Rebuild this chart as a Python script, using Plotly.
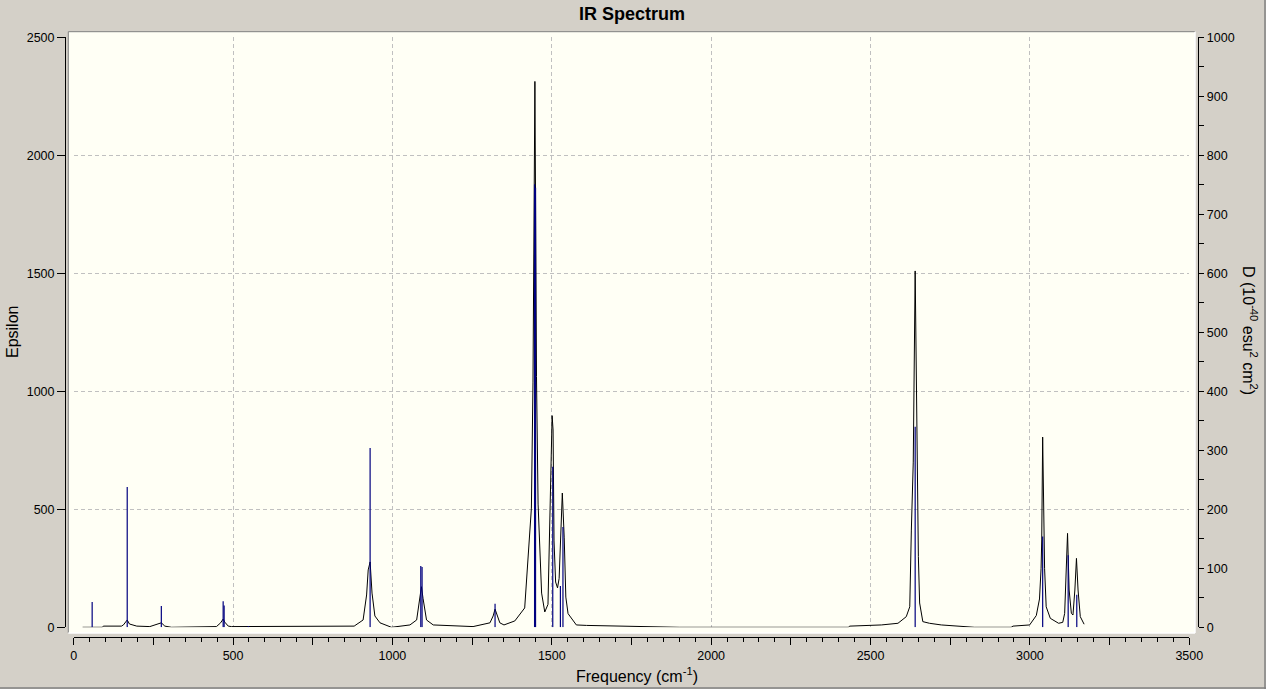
import plotly.graph_objects as go

# ---------------- data ----------------
# Stick spectrum: frequency (cm-1) and dipole strength D (1e-40 esu^2 cm^2, right axis)
stick_freq = [58, 168, 275, 469, 472, 548, 930, 1089, 1093, 1322, 1446, 1449, 1503, 1527, 1535, 2640, 3040, 3120, 3147]
stick_d = [43, 238, 36, 44, 37, 2, 304, 104, 102, 40, 751, 745, 272, 70, 170, 340, 154, 122, 55]

# Broadened spectrum: frequency (cm-1) and epsilon (left axis)
curve_freq = [28, 90, 93, 150, 156, 164, 168, 175, 198, 239, 265, 275, 286, 307,
              448, 461, 469, 474, 485, 495, 880, 908, 919, 924, 930, 936, 945, 961, 997,
              1055, 1076, 1086, 1091, 1096, 1107, 1128, 1253, 1306, 1316, 1322, 1329, 1337,
              1350, 1384, 1415, 1436, 1441, 1447, 1452, 1457, 1468, 1478, 1488, 1496, 1501,
              1504, 1507, 1512, 1518, 1523, 1528, 1533, 1539, 1544, 1551, 1577, 1609, 1700,
              1800, 1900, 2430, 2435, 2534, 2586, 2612, 2623, 2628, 2634, 2640, 2646, 2650,
              2654, 2664, 2685, 2722, 2826, 2941, 2947, 2999, 3020, 3030, 3035, 3037, 3040,
              3043, 3046, 3051, 3064, 3090, 3103, 3109, 3113, 3118, 3123, 3130, 3135, 3141,
              3146, 3151, 3158, 3170]
curve_eps = [0, 0, 5, 5, 10, 27, 31, 14, 5, 3, 14, 19, 5, 0,
             3, 19, 35, 22, 5, 3, 5, 31, 137, 243, 277, 145, 48, 19, 0,
             10, 31, 123, 172, 123, 31, 10, 3, 19, 48, 77, 48, 19,
             10, 27, 82, 505, 1039, 2313, 1062, 522, 145, 65, 97, 569, 897,
             836, 366, 192, 167, 207, 412, 569, 379, 128, 58, 10, 8, 5,
             3, 0, 0, 5, 10, 17, 45, 87, 412, 700, 1510, 600, 300,
             103, 24, 17, 10, 0, 0, 5, 10, 50, 120, 250, 370, 806,
             400, 250, 87, 38, 17, 21, 59, 243, 398, 158, 59, 52, 158,
             292, 158, 45, 13]

x_ticks_labeled = [0, 500, 1000, 1500, 2000, 2500, 3000, 3500]
x_ticks_mid = [250, 750, 1250, 1750, 2250, 2750, 3250]

# ---------------- layout helpers (pixel -> paper) ----------------
W, H = 1266, 689
def fx(p):
    return p / W
def fy(p):
    return 1 - p / H

GRAY = "#D4D0C8"
IVORY = "#FFFFF5"
FONT = "Liberation Sans"

stick_x, stick_y = [], []
for f, d in zip(stick_freq, stick_d):
    stick_x += [f, f, None]
    stick_y += [0, d, None]

fig = go.Figure()
fig.add_trace(go.Scatter(x=curve_freq, y=curve_eps, mode="lines",
                         line=dict(color="black", width=1), xaxis="x", yaxis="y",
                         showlegend=False, hoverinfo="skip"))
fig.add_trace(go.Scatter(x=stick_x, y=stick_y, mode="lines",
                         line=dict(color="#00007F", width=1.2), xaxis="x", yaxis="y2",
                         showlegend=False, hoverinfo="skip"))
fig.add_trace(go.Scatter(x=[None], y=[None], mode="lines", xaxis="x3", yaxis="y",
                         showlegend=False, hoverinfo="skip"))

xdom = [fx(73.67), fx(1189.3)]
ydom = [fy(627.3), fy(37.3)]
tickfont = dict(family=FONT, size=12.5, color="black")
grid = dict(showgrid=True, gridcolor="#C0C0C0", gridwidth=1, griddash="4px,3px")

fig.update_layout(
    width=W, height=H,
    margin=dict(l=0, r=0, t=0, b=0),
    paper_bgcolor=GRAY, plot_bgcolor=IVORY,
    xaxis=dict(domain=xdom, range=[0, 3500], anchor="free", position=fy(636.7),
               tickmode="array", tickvals=x_ticks_labeled,
               ticktext=[str(v) for v in x_ticks_labeled],
               ticks="outside", ticklen=7, tickcolor="black", tickwidth=1,
               showline=True, linecolor="black", linewidth=1, zeroline=False,
               minor=dict(tick0=0, dtick=50, ticks="outside", ticklen=4,
                          tickcolor="black", showgrid=False),
               tickfont=tickfont, automargin=False, fixedrange=True, **grid),
    xaxis3=dict(domain=xdom, range=[0, 3500], anchor="free", position=fy(636.7),
                overlaying="x", tickmode="array", tickvals=x_ticks_mid,
                ticks="outside", ticklen=7, tickcolor="black", showticklabels=False,
                showgrid=False, showline=False, zeroline=False, automargin=False),
    yaxis=dict(domain=ydom, range=[0, 2500], anchor="free", position=fx(65),
               tick0=0, dtick=500, ticks="outside", ticklen=8, tickcolor="black",
               showline=True, linecolor="black", linewidth=1, zeroline=False,
               tickfont=tickfont, automargin=False, fixedrange=True, **grid),
    yaxis2=dict(overlaying="y", side="right", range=[0, 1000], anchor="free",
                position=fx(1198.3), tick0=0, dtick=100, ticks="outside", ticklen=5,
                tickcolor="black", showline=True, linecolor="black", linewidth=1,
                zeroline=False, showgrid=False,
                minor=dict(tick0=0, dtick=50, ticks="outside", ticklen=5,
                           tickcolor="black", showgrid=False),
                tickfont=tickfont, automargin=False, fixedrange=True),
    shapes=[
        dict(type="rect", xref="paper", yref="paper", x0=fx(68.3), x1=fx(1195),
             y0=fy(633), y1=fy(31.7), fillcolor=IVORY, line=dict(width=0), layer="below"),
        dict(type="line", xref="paper", yref="paper", x0=fx(68.3), x1=fx(1195),
             y0=fy(31.7), y1=fy(31.7), line=dict(color="#808080", width=1), layer="below"),
        dict(type="line", xref="paper", yref="paper", x0=fx(68.3), x1=fx(68.3),
             y0=fy(633), y1=fy(31.7), line=dict(color="#808080", width=1), layer="below"),
        dict(type="line", xref="paper", yref="paper", x0=fx(68.3), x1=fx(1195),
             y0=fy(633), y1=fy(633), line=dict(color="white", width=1.5), layer="below"),
        dict(type="line", xref="paper", yref="paper", x0=fx(1195), x1=fx(1195),
             y0=fy(633), y1=fy(31.7), line=dict(color="white", width=1.5), layer="below"),
        dict(type="line", xref="paper", yref="paper", x0=fx(1265), x1=fx(1265),
             y0=0, y1=1, line=dict(color="#808080", width=1.5), layer="below"),
        dict(type="line", xref="paper", yref="paper", x0=0, x1=1,
             y0=fy(688), y1=fy(688), line=dict(color="#808080", width=1.5), layer="below"),
    ],
    annotations=[
        dict(text="<b>IR Spectrum</b>", xref="paper", yref="paper", x=fx(632), y=fy(14),
             showarrow=False, font=dict(family=FONT, size=18, color="black"),
             xanchor="center", yanchor="middle"),
        dict(text="Epsilon", xref="paper", yref="paper", x=fx(12), y=fy(332),
             showarrow=False, textangle=-90, font=dict(family=FONT, size=16, color="black"),
             xanchor="center", yanchor="middle"),
        dict(text="Frequency (cm<sup>-1</sup>)", xref="paper", yref="paper", x=fx(637),
             y=fy(675), showarrow=False, font=dict(family=FONT, size=16, color="black"),
             xanchor="center", yanchor="middle"),
        dict(text="D (10<sup>-40</sup> esu<sup>2</sup> cm<sup>2</sup>)", xref="paper",
             yref="paper", x=fx(1250), y=fy(330), showarrow=False, textangle=90,
             font=dict(family=FONT, size=16, color="black"),
             xanchor="center", yanchor="middle"),
    ],
)

fig.write_html("out.html", config={"displayModeBar": False},
               post_script="document.body.style.margin='0';document.body.style.overflow='hidden';")
